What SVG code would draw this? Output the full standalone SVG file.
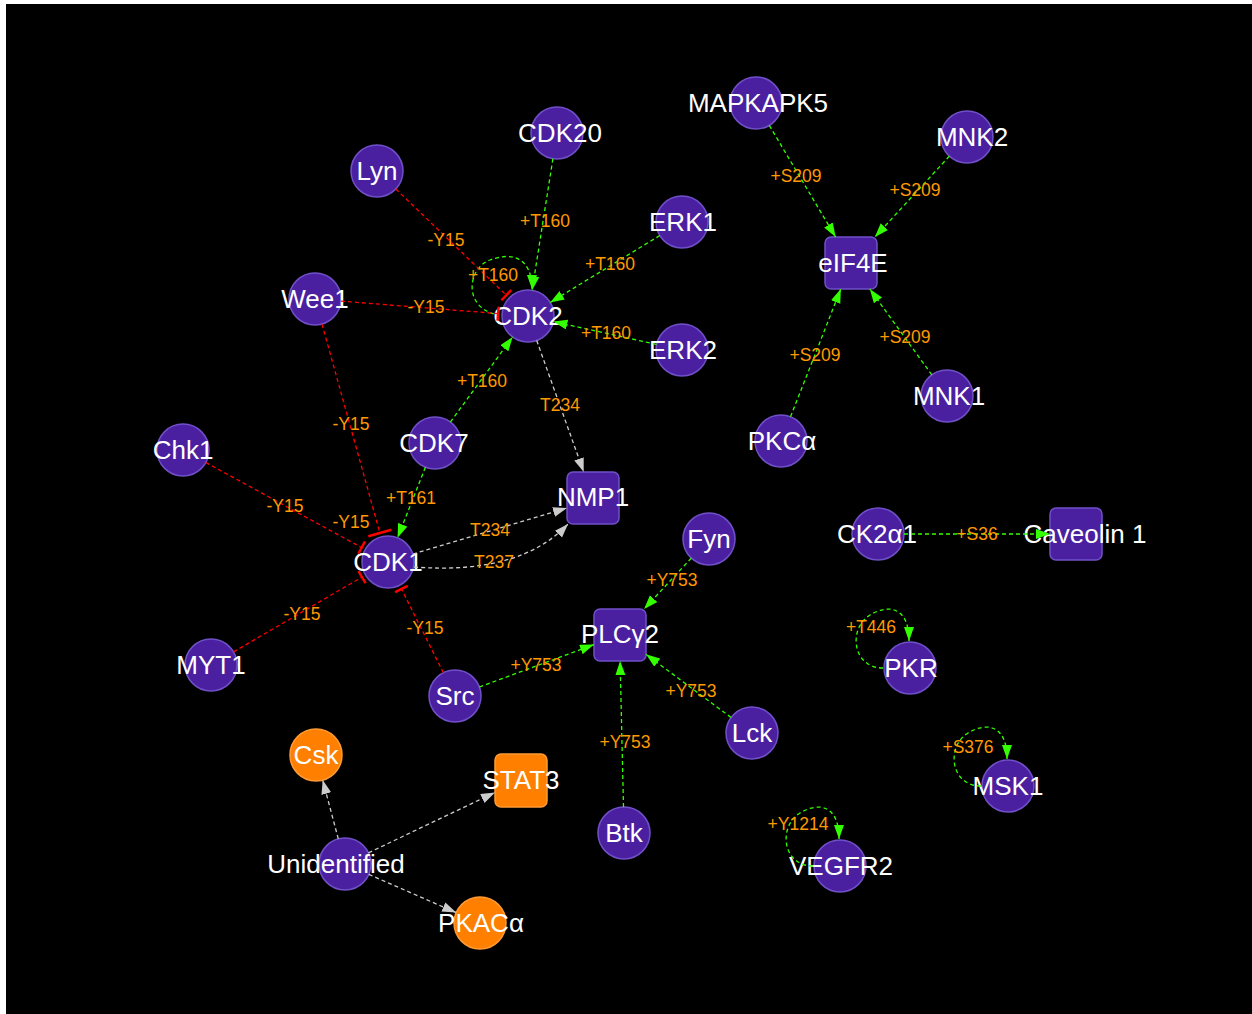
<svg xmlns="http://www.w3.org/2000/svg" width="1252" height="1014" viewBox="0 0 1252 1014">
<style>
.bg{fill:#000}
.n{fill:#4a20a0;stroke:#7050c8;stroke-width:1.5}
.o{fill:#ff7f00;stroke:#ff9a33;stroke-width:1.5}
.nl{font-family:"Liberation Sans",Arial,sans-serif;font-size:26px;fill:#fff;text-anchor:middle}
.el{font-family:"Liberation Sans",Arial,sans-serif;font-size:17.5px;fill:#ff9900;text-anchor:middle}
.g{stroke:#33ff00;stroke-width:1.3;stroke-dasharray:4,3;fill:none;marker-end:url(#ag)}
.r{stroke:#ff0000;stroke-width:1.3;stroke-dasharray:4,3;fill:none;marker-end:url(#tee)}
.rw{stroke:#ff0000;stroke-width:1.3;stroke-dasharray:4,3;fill:none;marker-end:url(#teew)}
.w{stroke:#cccccc;stroke-width:1.3;stroke-dasharray:4,3;fill:none;marker-end:url(#aw)}
</style>
<defs>
<marker id="ag" markerUnits="userSpaceOnUse" markerWidth="15" markerHeight="11" refX="14" refY="5" orient="auto"><path d="M0,0 L14,5 L0,10 z" fill="#33ff00"/></marker>
<marker id="aw" markerUnits="userSpaceOnUse" markerWidth="15" markerHeight="11" refX="14" refY="5" orient="auto"><path d="M0,0 L14,5 L0,10 z" fill="#cccccc"/></marker>
<marker id="tee" markerUnits="userSpaceOnUse" markerWidth="4" markerHeight="16" refX="2" refY="8" orient="auto"><path d="M2,1 L2,15" stroke="#ff0000" stroke-width="2.5"/></marker>
<marker id="teew" markerUnits="userSpaceOnUse" markerWidth="4" markerHeight="26" refX="2" refY="13" orient="auto"><path d="M2,1 L2,25" stroke="#ff0000" stroke-width="2.5"/></marker>
</defs>
<rect class="bg" x="6" y="4" width="1246" height="1010"/>
<g id="CDK20"><circle class="n" cx="557" cy="133" r="26"/><text class="nl" x="560" y="142">CDK20</text></g>
<g id="Lyn"><circle class="n" cx="377" cy="171" r="26"/><text class="nl" x="377" y="180">Lyn</text></g>
<g id="MAPKAPK5"><circle class="n" cx="756" cy="103" r="26"/><text class="nl" x="758" y="112">MAPKAPK5</text></g>
<g id="MNK2"><circle class="n" cx="967" cy="137" r="26"/><text class="nl" x="972" y="146">MNK2</text></g>
<g id="ERK1"><circle class="n" cx="682" cy="222" r="26"/><text class="nl" x="683" y="231">ERK1</text></g>
<g id="eIF4E"><rect class="n" x="825" y="237" width="52" height="52" rx="6"/><text class="nl" x="853" y="272">eIF4E</text></g>
<g id="Wee1"><circle class="n" cx="315" cy="299" r="26"/><text class="nl" x="315" y="308">Wee1</text></g>
<g id="CDK2"><circle class="n" cx="528" cy="316" r="26"/><text class="nl" x="528" y="325">CDK2</text></g>
<g id="ERK2"><circle class="n" cx="682" cy="350" r="26"/><text class="nl" x="683" y="359">ERK2</text></g>
<g id="MNK1"><circle class="n" cx="947" cy="396" r="26"/><text class="nl" x="949" y="405">MNK1</text></g>
<g id="PKCa"><circle class="n" cx="781" cy="441" r="26"/><text class="nl" x="782" y="450">PKCα</text></g>
<g id="Chk1"><circle class="n" cx="183" cy="450" r="26"/><text class="nl" x="183" y="459">Chk1</text></g>
<g id="CDK7"><circle class="n" cx="435" cy="443" r="26"/><text class="nl" x="434" y="452">CDK7</text></g>
<g id="NMP1"><rect class="n" x="567" y="472" width="52" height="52" rx="6"/><text class="nl" x="593" y="506">NMP1</text></g>
<g id="CDK1"><circle class="n" cx="388" cy="562" r="26"/><text class="nl" x="388" y="571">CDK1</text></g>
<g id="Fyn"><circle class="n" cx="709" cy="539" r="26"/><text class="nl" x="709" y="548">Fyn</text></g>
<g id="CK2a1"><circle class="n" cx="878" cy="534" r="26"/><text class="nl" x="877" y="543">CK2α1</text></g>
<g id="Caveolin1"><rect class="n" x="1050" y="508" width="52" height="52" rx="6"/><text class="nl" x="1085" y="543">Caveolin 1</text></g>
<g id="PLCg2"><rect class="n" x="594" y="609" width="52" height="52" rx="6"/><text class="nl" x="620" y="643">PLCγ2</text></g>
<g id="PKR"><circle class="n" cx="910" cy="668" r="26"/><text class="nl" x="911" y="677">PKR</text></g>
<g id="MYT1"><circle class="n" cx="211" cy="665" r="26"/><text class="nl" x="211" y="674">MYT1</text></g>
<g id="Src"><circle class="n" cx="455" cy="696" r="26"/><text class="nl" x="455" y="705">Src</text></g>
<g id="Lck"><circle class="n" cx="752" cy="733" r="26"/><text class="nl" x="752" y="742">Lck</text></g>
<g id="Csk"><circle class="o" cx="316" cy="755" r="26"/><text class="nl" x="316" y="764">Csk</text></g>
<g id="STAT3"><rect class="o" x="495" y="754" width="52" height="53" rx="6"/><text class="nl" x="521" y="789">STAT3</text></g>
<g id="MSK1"><circle class="n" cx="1008" cy="786" r="26"/><text class="nl" x="1008" y="795">MSK1</text></g>
<g id="Btk"><circle class="n" cx="624" cy="833" r="26"/><text class="nl" x="624" y="842">Btk</text></g>
<g id="VEGFR2"><circle class="n" cx="840" cy="866" r="26"/><text class="nl" x="841" y="875">VEGFR2</text></g>
<g id="Unidentified"><circle class="n" cx="345" cy="864" r="26"/><text class="nl" x="336" y="873">Unidentified</text></g>
<g id="PKACa"><circle class="o" cx="480" cy="923" r="26"/><text class="nl" x="481" y="932">PKACα</text></g>
<g id="connectors">
<path class="g" d="M552.9,158.7 L532.1,290.3"/>
<path class="g" d="M659.8,235.5 L550.2,302.5"/>
<path class="g" d="M656.6,344.4 L553.4,321.6"/>
<path class="g" d="M450.4,422 L512.6,337"/>
<path class="g" d="M494,314 C463,305 468,268 490,260 C510,252 532,256 532,289"/>
<path class="r" d="M395.8,189 L506.3,295.2"/>
<path class="r" d="M340.9,301.1 L498.1,313.6"/>
<path class="w" d="M536.7,340.5 L583.7,472"/>
<path class="rw" d="M322,324.1 L379.9,533"/>
<path class="r" d="M205.8,462.5 L361.7,547.6"/>
<path class="r" d="M233.5,651.9 L362,577.1"/>
<path class="r" d="M443.4,672.7 L401.4,588.9"/>
<path class="g" d="M425.4,467.2 L397.6,537.8"/>
<path class="w" d="M413,554 L567,508"/>
<path class="w" d="M414,567 Q520,575 568,524"/>
<path class="g" d="M691.3,558.1 L644.1,609"/>
<path class="g" d="M479.4,687 L594,644.6"/>
<path class="g" d="M731.1,717.5 L646,654.3"/>
<path class="g" d="M623.5,807 L620.1,661"/>
<path class="g" d="M769.3,125.4 L835.6,237"/>
<path class="g" d="M949.4,156.1 L874.9,237"/>
<path class="g" d="M790.5,416.8 L840.8,289"/>
<path class="g" d="M931.8,374.9 L869.8,289"/>
<path class="g" d="M904,534 L1050,534"/>
<path class="g" d="M883,668 C852,668 848,628 870,615 C888,604 909,606 909,641"/>
<path class="g" d="M981,786 C950,786 946,746 968,733 C986,722 1007,724 1007,759"/>
<path class="g" d="M813,866 C782,866 778,826 800,813 C818,802 839,804 839,839"/>
<path class="w" d="M338.3,838.9 L322.7,780.1"/>
<path class="w" d="M368.5,852.8 L495,792.4"/>
<path class="w" d="M368.8,874.4 L456.2,912.6"/>
<text class="el" x="545" y="227">+T160</text>
<text class="el" x="446" y="246">-Y15</text>
<text class="el" x="610" y="270">+T160</text>
<text class="el" x="493" y="281">+T160</text>
<text class="el" x="426" y="313">-Y15</text>
<text class="el" x="606" y="339">+T160</text>
<text class="el" x="482" y="387">+T160</text>
<text class="el" x="560" y="411">T234</text>
<text class="el" x="351" y="430">-Y15</text>
<text class="el" x="285" y="512">-Y15</text>
<text class="el" x="351" y="528">-Y15</text>
<text class="el" x="411" y="504">+T161</text>
<text class="el" x="490" y="536">T234</text>
<text class="el" x="494" y="568">T237</text>
<text class="el" x="302" y="620">-Y15</text>
<text class="el" x="425" y="634">-Y15</text>
<text class="el" x="672" y="586">+Y753</text>
<text class="el" x="536" y="671">+Y753</text>
<text class="el" x="691" y="697">+Y753</text>
<text class="el" x="625" y="748">+Y753</text>
<text class="el" x="796" y="182">+S209</text>
<text class="el" x="915" y="196">+S209</text>
<text class="el" x="815" y="361">+S209</text>
<text class="el" x="905" y="343">+S209</text>
<text class="el" x="977" y="540">+S36</text>
<text class="el" x="871" y="633">+T446</text>
<text class="el" x="968" y="753">+S376</text>
<text class="el" x="798" y="830">+Y1214</text>
</g>
</svg>
